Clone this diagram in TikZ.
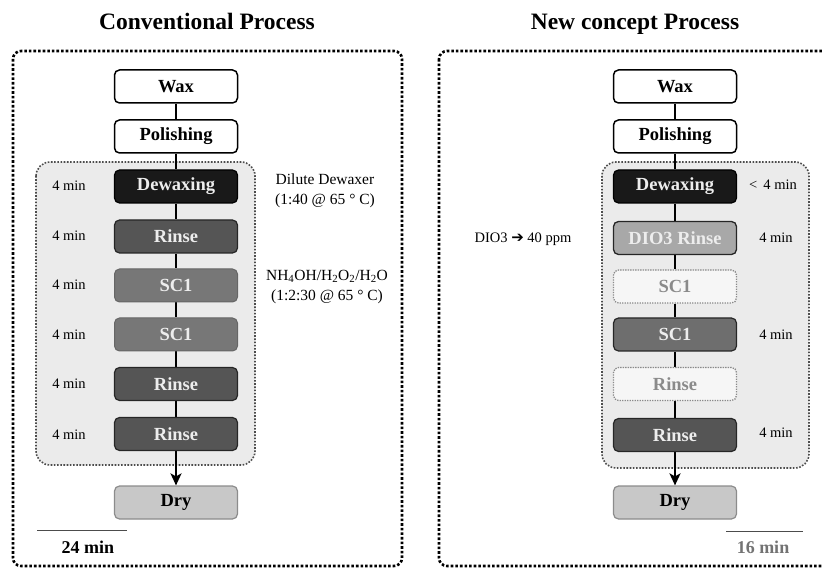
\documentclass[tikz,border=0pt]{standalone}
\usepackage{fontspec}
\setmainfont{Liberation Serif}
\newfontfamily\symbolfont{DejaVu Sans}
\usetikzlibrary{arrows.meta}
\pgfdeclarelayer{paper}
\pgfdeclarelayer{panel}
\pgfdeclarelayer{wire}
\pgfsetlayers{paper,panel,wire,main}

\definecolor{panelgray}{HTML}{EBEBEB}
\definecolor{rinsegray}{HTML}{555555}
\definecolor{scgray}{HTML}{777777}
\definecolor{drygray}{HTML}{C8C8C8}
\definecolor{diogray}{HTML}{A8A8A8}
\definecolor{ghostfill}{HTML}{FAFAFA}
\definecolor{ghostline}{HTML}{8A8A8A}
\definecolor{softtext}{HTML}{EDEDED}

\tikzset{
  x=1pt, y=-1pt,
  stepbox/.style={rectangle, rounded corners=5pt, minimum width=123pt,
    minimum height=33pt, inner sep=0pt, font=\fontsize{18.5}{18.5}\selectfont\bfseries},
  plainbox/.style={stepbox, draw=black, line width=1.5pt, fill=white},
  dewaxbox/.style={stepbox, draw=black, line width=1.2pt, fill=black!90, text=softtext},
  rinsebox/.style={stepbox, draw=black!85, line width=1.2pt, fill=rinsegray, text=softtext},
  scbox/.style={stepbox, draw=black!60, line width=1pt, fill=scgray, text=softtext},
  diobox/.style={stepbox, draw=black!85, line width=1.3pt, fill=diogray, text=softtext},
  ghostbox/.style={stepbox, draw=ghostline, line width=1.3pt,
    dash pattern=on 1.3pt off 1.2pt, fill=ghostfill, fill opacity=0.75,
    text opacity=1, text=ghostline},
  drybox/.style={stepbox, draw=black!45, line width=1.2pt, fill=drygray},
  outerframe/.style={draw=black, line width=2.6pt, dash pattern=on 2.6pt off 2pt,
    rounded corners=8pt},
  innerframe/.style={draw=black!70, line width=1.6pt, dash pattern=on 1.6pt off 1.6pt,
    fill=panelgray, rounded corners=14pt},
  timelabel/.style={font=\fontsize{14.5}{14.5}\selectfont},
  notelabel/.style={font=\fontsize{15.5}{19.5}\selectfont, align=center},
  titlelabel/.style={font=\fontsize{23.5}{23.5}\selectfont\bfseries, anchor=base},
  totallabel/.style={font=\fontsize{18}{18}\selectfont\bfseries},
  flow/.style={line width=2pt, draw=black},
  flowend/.style={line width=2pt, draw=black, -{Stealth[length=12pt,width=11pt,inset=3pt]}},
  scaleline/.style={line width=1pt, draw=black!70},
}

\begin{document}
\begin{tikzpicture}
\useasboundingbox (0,0) rectangle (823,572);
\clip (0,0) rectangle (823,572);
\begin{pgfonlayer}{paper}
  \fill[white] (0,0) rectangle (823,572);
\end{pgfonlayer}

% ---------- titles ----------
\node[titlelabel] (titleA) at (207,30) {Conventional Process};
\node[titlelabel] (titleB) at (635,30) {New concept Process};

% ---------- frames ----------
\draw[outerframe] (13,51) rectangle (402,566);
\draw[outerframe] (439,51) rectangle (840,566);
\begin{pgfonlayer}{panel}
  \draw[innerframe] (36,162) rectangle (255,465);
  \draw[innerframe] (602,162) rectangle (809,468);
\end{pgfonlayer}

% ---------- conventional column ----------
\node[plainbox] (aWax) at (176,86.5) {Wax};
\node[plainbox] (aPol) at (176,136.5) {Polishing};
\node[dewaxbox] (aDew) at (176,186.5) {Dewaxing};
\node[rinsebox] (aR1) at (176,236.5) {Rinse};
\node[scbox] (aS1) at (176,285.5) {SC1};
\node[scbox] (aS2) at (176,334.5) {SC1};
\node[rinsebox] (aR2) at (176,384) {Rinse};
\node[rinsebox] (aR3) at (176,434) {Rinse};
\node[drybox] (aDry) at (176,502.5) {Dry};

\begin{pgfonlayer}{wire}
  \draw[flow] (aWax) -- (aPol);
  \draw[flow] (aPol) -- (aDew);
  \draw[flow] (aDew) -- (aR1);
  \draw[flow] (aR1) -- (aS1);
  \draw[flow] (aS1) -- (aS2);
  \draw[flow] (aS2) -- (aR2);
  \draw[flow] (aR2) -- (aR3);
  \draw[flowend] (aR3) -- (aDry);
\end{pgfonlayer}

\foreach \yy/\nm in {186/t1, 236/t2, 285/t3, 335/t4, 384/t5, 435/t6}
  \node[timelabel] (a\nm) at (69,\yy) {4 min};

\node[notelabel] (aNoteDew) at (325,191) {Dilute Dewaxer\\(1:40 @ 65 ° C)};
\node[notelabel] (aNoteSC) at (327,287)
  {NH\textsubscript{4}OH/H\textsubscript{2}O\textsubscript{2}/H\textsubscript{2}O\\(1:2:30 @ 65 ° C)};

\coordinate (aScaleL) at (37,530);
\coordinate (aScaleR) at (127,530);
\draw[scaleline] (aScaleL) -- (aScaleR);
\node[totallabel] (aTotal) at (88,547) {24 min};

% ---------- new concept column ----------
\node[plainbox] (bWax) at (675,86.5) {Wax};
\node[plainbox] (bPol) at (675,136.5) {Polishing};
\node[dewaxbox] (bDew) at (675,186.5) {Dewaxing};
\node[diobox] (bDio) at (675,238) {DIO3 Rinse};
\node[ghostbox] (bS1) at (675,286.5) {SC1};
\node[rinsebox, fill=rinsegray!85!white] (bS2) at (675,334.5) {SC1};
\node[ghostbox] (bR1) at (675,384) {Rinse};
\node[rinsebox] (bR2) at (675,435) {Rinse};
\node[drybox] (bDry) at (675,502.5) {Dry};

\begin{pgfonlayer}{wire}
  \draw[flow] (bWax) -- (bPol);
  \draw[flow] (bPol) -- (bDew);
  \draw[flow] (bDew) -- (bDio);
  \draw[flow] (bDio) -- (bS1);
  \draw[flow] (bS1) -- (bS2);
  \draw[flow] (bS2) -- (bR1);
  \draw[flow] (bR1) -- (bR2);
  \draw[flowend] (bR2) -- (bDry);
\end{pgfonlayer}

\node[timelabel] (bT1) at (773,185) {<\, 4 min};
\node[timelabel] (bT2) at (776,238) {4 min};
\node[timelabel] (bT3) at (776,335) {4 min};
\node[timelabel] (bT4) at (776,433) {4 min};

\node[timelabel] (bNote) at (523,239) {DIO3 {\symbolfont\fontsize{15}{15}\selectfont ➔} 40 ppm};

\coordinate (bScaleL) at (726,531);
\coordinate (bScaleR) at (803,531);
\draw[scaleline] (bScaleL) -- (bScaleR);
\node[totallabel, text=black!55] (bTotal) at (763,547) {16 min};
\end{tikzpicture}
\end{document}
